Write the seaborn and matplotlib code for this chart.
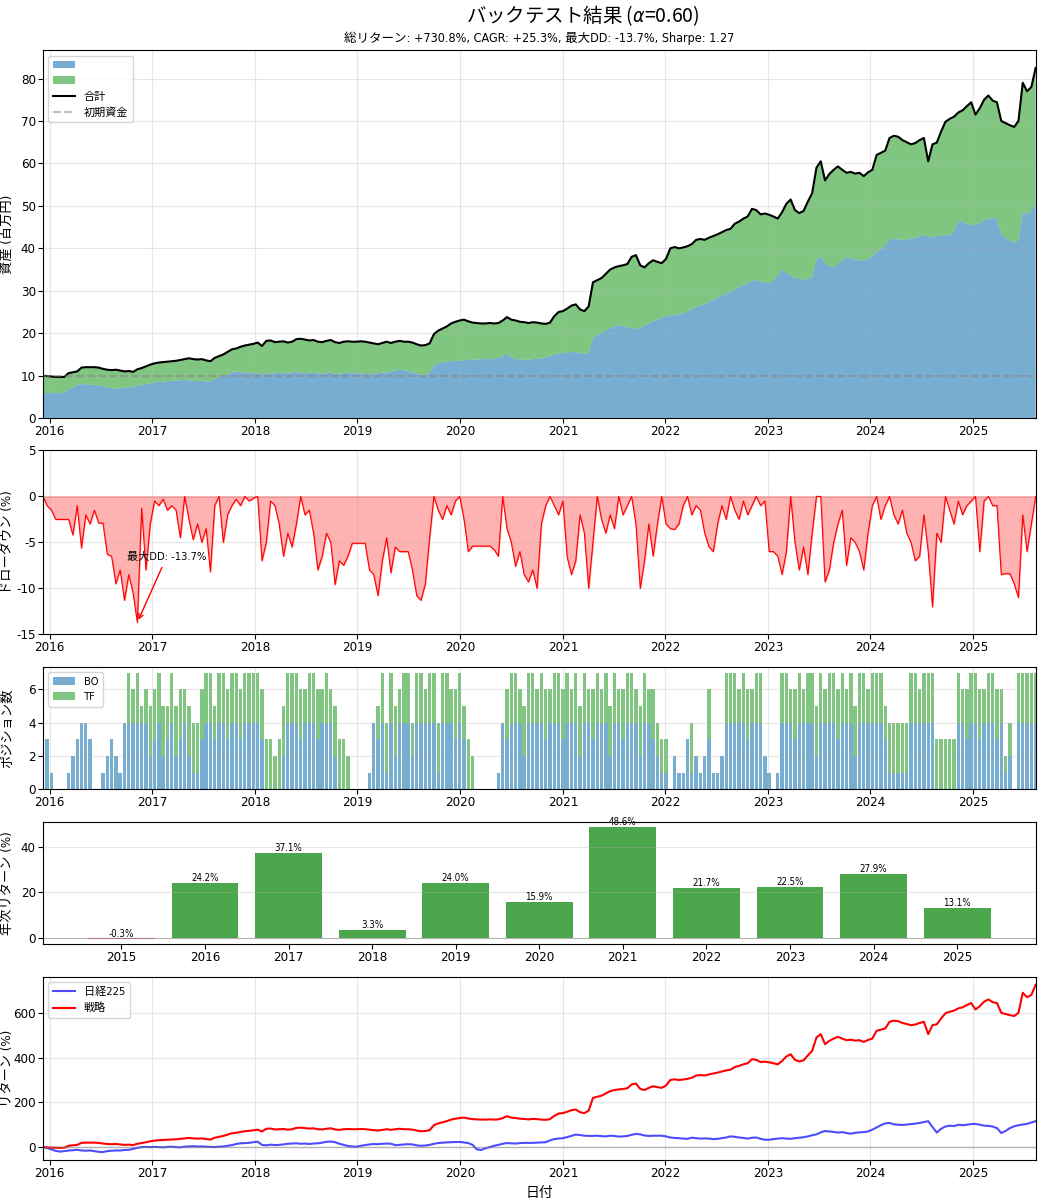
"""バックテスト結果のダッシュボード（資産推移・DD・ポジション・年次・対日経）を描く。"""

import matplotlib

matplotlib.use("Agg")

import matplotlib.dates as mdates
import matplotlib.pyplot as plt
from matplotlib import font_manager
from matplotlib.lines import Line2D
from matplotlib.patches import Patch
import numpy as np
import pandas as pd
import seaborn as sns

# 半月ごとの観測点（2015-12 〜 2025-08）
START_DATE = "2015-12-08"
END_DATE = "2025-08-11"
INITIAL_CAPITAL = 10.0  # 百万円

# 合計資産（百万円）
TOTAL_EQUITY = [
    10.0,
    9.9, 9.8, 9.7, 9.7, 9.7, 10.6, 10.8, 11.0, 11.9, 12.0, 12.0, 12.0, 11.9, 11.6, 11.4, 11.3, 11.4, 11.2, 11.0, 11.1, 10.9, 11.5, 11.8, 12.2,
    12.6, 12.9, 13.1, 13.2, 13.3, 13.4, 13.5, 13.7, 13.9, 14.1, 13.9, 13.8, 13.9, 13.6, 13.4, 14.2, 14.6, 15.0, 15.6, 16.2, 16.4, 16.8, 17.1, 17.3,
    17.5, 17.8, 17.0, 18.2, 18.3, 17.9, 18.0, 18.1, 17.8, 18.0, 18.6, 18.7, 18.5, 18.3, 18.4, 18.0, 17.9, 18.2, 18.4, 17.9, 17.7, 18.0, 18.1, 18.0,
    18.0, 18.1, 18.0, 17.8, 17.6, 17.4, 17.7, 18.0, 17.7, 18.0, 18.2, 18.0, 18.0, 17.8, 17.4, 17.1, 17.2, 17.6, 19.8, 20.6, 21.1, 21.6, 22.3, 22.7,
    23.0, 23.2, 22.8, 22.5, 22.4, 22.3, 22.3, 22.4, 22.3, 22.4, 23.0, 23.8, 23.2, 23.0, 22.7, 22.6, 22.4, 22.6, 22.5, 22.3, 22.2, 22.5, 24.0, 25.0,
    25.2, 25.8, 26.5, 26.8, 25.6, 25.2, 26.3, 32.0, 32.5, 33.0, 34.0, 35.0, 35.5, 35.8, 36.0, 36.3, 38.0, 38.4, 36.0, 35.5, 36.5, 37.2, 36.8, 36.5,
    37.5, 40.0, 40.3, 40.0, 40.2, 40.5, 41.0, 42.0, 42.2, 42.0, 42.5, 42.9, 43.3, 43.8, 44.3, 44.6, 45.8, 46.3, 47.0, 47.5, 49.3, 49.0, 48.0, 48.2,
    47.9, 47.5, 47.0, 48.5, 50.5, 51.5, 49.0, 48.3, 48.8, 51.0, 53.0, 59.0, 60.5, 56.0, 57.5, 58.5, 59.3, 58.5, 57.8, 58.0, 57.6, 57.8, 57.0, 57.9,
    58.5, 62.0, 62.5, 63.0, 66.0, 66.5, 66.3, 65.5, 65.0, 64.5, 64.8, 65.5, 66.0, 60.5, 64.5, 64.9, 67.5, 69.8, 70.5, 71.0, 72.0, 72.5, 73.5, 74.4,
    71.5, 73.0, 75.0, 76.0, 74.8, 74.4, 70.0, 69.5, 69.0, 68.6, 70.0, 79.0, 77.0, 78.0, 82.5,
]

# BO戦略の資産（百万円）
BO_EQUITY = [
    6.0,
    5.9, 5.9, 5.9, 5.9, 5.9, 6.8, 7.2, 7.8, 8.0, 8.0, 7.9, 7.8, 7.7, 7.5, 7.3, 7.1, 6.9, 7.0, 7.2, 7.3, 7.4, 7.6, 7.8, 8.0,
    8.2, 8.4, 8.5, 8.6, 8.7, 8.8, 8.8, 8.9, 9.0, 8.9, 8.8, 8.7, 8.8, 8.6, 8.7, 9.2, 9.6, 9.9, 10.3, 10.7, 11.0, 10.8, 10.7, 10.6,
    10.6, 10.5, 10.3, 10.6, 10.5, 10.6, 10.6, 10.7, 10.5, 10.8, 10.9, 10.7, 10.6, 10.6, 10.8, 10.5, 10.4, 10.6, 10.7, 10.5, 10.4, 10.6, 10.7, 10.6,
    10.6, 10.5, 10.4, 10.3, 10.4, 10.6, 10.7, 10.8, 10.9, 11.2, 11.4, 11.3, 11.1, 10.8, 10.5, 10.2, 10.3, 10.6, 12.5, 12.9, 13.1, 13.3, 13.4, 13.5,
    13.5, 13.6, 13.7, 13.8, 13.8, 13.9, 13.9, 13.9, 14.0, 14.2, 14.6, 15.1, 14.3, 14.0, 13.8, 13.7, 13.8, 13.9, 14.0, 14.1, 14.3, 14.6, 15.0, 15.2,
    15.3, 15.5, 15.6, 15.5, 15.3, 15.2, 15.3, 18.9, 19.5, 20.1, 20.6, 21.2, 21.6, 21.8, 21.7, 21.4, 21.2, 21.0, 21.3, 21.8, 22.3, 22.8, 23.3, 23.7,
    23.9, 24.1, 24.3, 24.5, 24.7, 25.2, 25.7, 26.2, 26.6, 26.8, 27.3, 27.9, 28.4, 29.0, 29.2, 29.8, 30.4, 30.9, 31.3, 31.8, 32.3, 32.6, 32.2, 31.9,
    31.7, 32.5, 33.5, 35.0, 34.2, 33.6, 33.0, 32.8, 32.6, 32.9, 33.2, 37.5, 37.9, 36.5, 35.8, 35.5, 36.3, 37.3, 37.9, 37.7, 37.4, 37.2, 37.1, 37.4,
    38.2, 39.2, 39.8, 40.6, 42.1, 42.3, 42.1, 42.0, 42.1, 42.3, 42.4, 42.8, 43.3, 42.5, 42.7, 42.9, 42.9, 43.2, 43.0, 44.0, 46.6, 46.2, 45.8, 45.5,
    45.4, 46.0, 46.6, 47.0, 47.1, 47.0, 43.3, 42.5, 41.8, 41.3, 42.0, 48.5, 48.0, 49.0, 50.5,
]

# ドローダウン（%）
DRAWDOWN = [
    0.0,
    -1.0, -1.5, -2.5, -2.5, -2.5, -2.5, -4.2, -1.0, -5.6, -2.0, -3.0, -1.5, -2.9, -2.9, -6.3, -6.5, -9.5, -8.0, -11.3, -8.5, -10.5, -13.7, -1.3, -8.0,
    -3.0, -0.5, -1.0, -0.3, -1.5, -1.0, -1.5, -4.5, 0.0, -2.5, -4.7, -3.0, -5.0, -3.5, -8.2, -1.0, 0.0, -5.0, -2.0, -1.0, -0.3, -1.0, 0.0, -0.5,
    -0.2, 0.0, -7.0, -5.0, -0.5, -1.0, -3.0, -6.5, -4.0, -5.5, -3.0, 0.0, -2.0, -1.5, -4.0, -8.0, -6.5, -4.0, -5.0, -9.6, -7.0, -7.5, -6.5, -5.1,
    -5.1, -5.1, -5.1, -8.0, -8.5, -10.8, -7.0, -4.5, -8.3, -5.5, -6.0, -6.0, -6.0, -8.0, -10.8, -11.3, -9.5, -4.5, 0.0, -1.5, -2.5, -1.0, -2.0, -0.5,
    0.0, -2.5, -6.0, -5.4, -5.4, -5.4, -5.4, -5.4, -5.8, -6.5, 0.0, -3.5, -5.0, -7.6, -6.0, -8.5, -9.3, -8.0, -10.0, -3.0, -1.0, 0.0, -1.0, -2.0,
    -0.5, -6.6, -8.5, -7.0, -2.0, -4.0, -10.0, -5.0, 0.0, -2.5, -4.0, -2.0, -3.5, 0.0, -2.0, -1.0, 0.0, -3.0, -10.0, -7.0, -3.0, -6.5, -3.0, 0.0,
    -3.0, -3.5, -3.6, -3.0, -1.0, 0.0, -2.0, -1.0, -1.5, -4.0, -5.5, -6.0, -3.0, -1.0, -2.5, 0.0, -1.5, -2.5, -0.5, -2.0, -1.0, 0.0, -1.0, -0.5,
    -6.0, -6.0, -6.5, -8.5, -6.0, 0.0, -5.0, -8.0, -5.5, -8.5, -4.0, 0.0, 0.0, -9.3, -8.0, -5.0, -3.0, -1.5, -7.5, -4.5, -5.0, -6.0, -8.0, -4.0,
    -1.0, 0.0, -2.5, -1.0, 0.0, -2.0, -3.0, -1.5, -4.0, -5.0, -7.0, -6.5, -2.0, -6.0, -12.0, -4.0, -5.0, 0.0, -1.5, -3.0, -0.5, -2.0, -1.0, -0.5,
    0.0, -6.0, -0.5, 0.0, -1.0, -1.0, -8.5, -8.4, -8.4, -9.5, -11.0, -2.0, -6.0, -3.0, 0.0,
]

# 保有ポジション数
BO_POSITIONS = [
    1,
    3, 1, 0, 0, 0, 1, 2, 3, 4, 4, 3, 0, 0, 1, 2, 3, 2, 1, 4, 4, 4, 4, 4, 4,
    2, 3, 4, 2, 3, 4, 2, 3, 4, 2, 1, 1, 3, 4, 4, 3, 4, 4, 3, 4, 4, 3, 4, 4,
    4, 4, 3, 0, 0, 0, 0, 2, 4, 4, 4, 3, 4, 4, 4, 3, 4, 4, 4, 2, 0, 0, 0, 0,
    0, 0, 0, 1, 4, 3, 4, 1, 4, 2, 4, 4, 4, 2, 4, 4, 4, 4, 4, 1, 4, 4, 4, 3,
    4, 3, 0, 0, 0, 0, 0, 0, 0, 1, 4, 3, 4, 4, 4, 2, 4, 4, 4, 4, 3, 4, 4, 4,
    3, 4, 4, 4, 2, 4, 4, 3, 4, 4, 4, 2, 4, 4, 3, 4, 4, 4, 2, 4, 4, 3, 2, 1,
    1, 0, 2, 1, 1, 3, 1, 2, 1, 2, 3, 1, 1, 2, 4, 4, 4, 4, 4, 3, 4, 4, 4, 2,
    1, 0, 1, 4, 4, 4, 3, 4, 4, 4, 4, 2, 4, 4, 4, 4, 3, 4, 4, 4, 2, 4, 4, 4,
    4, 4, 4, 3, 1, 1, 1, 1, 1, 4, 4, 4, 4, 4, 4, 0, 0, 0, 0, 0, 4, 4, 3, 4,
    4, 3, 4, 4, 4, 3, 4, 1, 2, 0, 4, 4, 4, 4, 4,
]
TF_POSITIONS = [
    0,
    0, 0, 0, 0, 0, 0, 0, 0, 0, 0, 0, 0, 0, 0, 0, 0, 0, 0, 0, 3, 2, 3, 1, 2,
    3, 3, 3, 3, 2, 3, 3, 3, 2, 3, 3, 3, 3, 3, 3, 2, 3, 3, 3, 3, 3, 3, 3, 3,
    3, 3, 3, 3, 3, 2, 3, 3, 3, 3, 3, 3, 2, 3, 3, 3, 2, 3, 2, 3, 3, 3, 2, 0,
    0, 0, 0, 0, 0, 2, 3, 3, 3, 3, 2, 3, 3, 2, 3, 3, 2, 3, 3, 3, 3, 3, 2, 3,
    3, 2, 3, 2, 0, 0, 0, 0, 0, 0, 0, 3, 3, 3, 2, 3, 3, 3, 2, 3, 3, 2, 3, 3,
    3, 3, 2, 3, 3, 3, 2, 3, 3, 2, 3, 3, 3, 2, 3, 3, 3, 2, 3, 3, 2, 3, 2, 2,
    2, 0, 0, 0, 0, 0, 3, 0, 0, 0, 3, 0, 0, 0, 3, 3, 3, 2, 3, 3, 2, 3, 3, 0,
    0, 0, 0, 3, 3, 2, 3, 3, 2, 3, 3, 3, 3, 2, 3, 3, 3, 3, 2, 3, 3, 3, 3, 2,
    3, 3, 3, 2, 3, 3, 3, 3, 3, 3, 3, 2, 3, 3, 3, 3, 3, 3, 3, 3, 3, 2, 3, 3,
    3, 3, 2, 3, 3, 3, 2, 1, 2, 0, 3, 3, 3, 3, 3,
]

# 日経225 累積リターン（%）
NIKKEI_RETURN = [
    0,
    -4, -10, -17, -20, -18, -15, -14, -12, -15, -16, -15, -18, -21, -22, -18, -16, -15, -15, -13, -12, -8, -3, 0, 1,
    0, 1, 0, -1, 1, 2, 0, -1, 2, 3, 4, 3, 3, 2, 1, 0, 2, 3, 6, 9, 14, 17, 18, 19,
    22, 24, 10, 8, 11, 9, 10, 12, 15, 16, 17, 15, 16, 14, 16, 17, 20, 24, 25, 22, 15, 10, 5, 3,
    2, 6, 9, 12, 14, 13, 15, 16, 15, 9, 10, 12, 13, 12, 8, 6, 7, 10, 15, 18, 20, 21, 22, 23,
    23, 21, 18, 10, -10, -13, -5, 0, 6, 10, 15, 18, 17, 16, 18, 19, 19, 19, 20, 21, 22, 30, 36, 38,
    40, 45, 50, 56, 54, 51, 50, 50, 51, 49, 48, 51, 50, 47, 48, 50, 55, 59, 57, 52, 50, 51, 51, 51,
    48, 43, 41, 40, 38, 37, 42, 40, 38, 39, 38, 36, 37, 40, 43, 48, 46, 43, 41, 38, 42, 43, 37, 33,
    33, 36, 38, 40, 38, 37, 40, 42, 44, 48, 53, 57, 66, 72, 70, 68, 65, 67, 63, 60, 64, 66, 67, 70,
    78, 88, 98, 106, 108, 102, 100, 99, 101, 103, 105, 108, 112, 116, 90, 65, 82, 92, 96, 94, 100, 98, 100, 103,
    104, 100, 96, 95, 92, 85, 63, 72, 85, 93, 98, 101, 104, 110, 116,
]

# 年次リターン
YEARS = ["2015", "2016", "2017", "2018", "2019", "2020", "2021", "2022", "2023", "2024", "2025"]
ANNUAL_RETURNS = [-0.3, 24.2, 37.1, 3.3, 24.0, 15.9, 48.6, 21.7, 22.5, 27.9, 13.1]

SUBTITLE = "総リターン: +730.8%, CAGR: +25.3%, 最大DD: -13.7%, Sharpe: 1.27"
CJK_FAMILY = ["Noto Sans CJK JP", "DejaVu Sans"]


def configure_font():
    """半角は細めの書体（あれば）、和文は Noto Sans CJK JP で描く。"""
    condensed = any(
        font.name == "DejaVu Sans" and str(font.stretch) in ("condensed", "semi-condensed", "500", "400")
        for font in font_manager.fontManager.ttflist
    )
    if condensed:
        plt.rcParams["font.family"] = ["DejaVu Sans", "Noto Sans CJK JP"]
        plt.rcParams["font.stretch"] = "condensed"
    else:
        plt.rcParams["font.family"] = CJK_FAMILY
    plt.rcParams["axes.unicode_minus"] = False


def format_date_axis(axis, dates, xlabel=""):
    axis.set_xlim(dates[0], dates[-1])
    axis.xaxis.set_major_locator(mdates.YearLocator())
    axis.xaxis.set_major_formatter(mdates.DateFormatter("%Y"))
    axis.set_xlabel(xlabel)
    axis.grid(True, alpha=0.3)


def style_axis(axis, ylabel):
    axis.set_ylabel(ylabel, fontsize=9.5)
    axis.yaxis.set_label_coords(-0.029, 0.5)
    axis.tick_params(labelsize=9.5, pad=1.5)


def main():
    configure_font()

    dates = pd.date_range(START_DATE, END_DATE, periods=len(TOTAL_EQUITY))
    total = np.array(TOTAL_EQUITY)
    bo = np.array(BO_EQUITY)
    tf = total - bo
    drawdown = np.array(DRAWDOWN)
    strategy_return = (total / INITIAL_CAPITAL - 1) * 100

    figure = plt.figure(figsize=(10.44, 12), dpi=100)
    grid = figure.add_gridspec(
        5, 1, height_ratios=[3, 1.5, 1, 1, 1.5],
        left=0.041, right=0.992, top=0.958, bottom=0.033, hspace=0.165,
    )
    ax_equity, ax_dd, ax_pos, ax_year, ax_bench = [figure.add_subplot(grid[i]) for i in range(5)]

    figure.suptitle("バックテスト結果 ($\\alpha$=0.60)", fontsize=14, x=0.558, y=0.997, family=CJK_FAMILY)

    # 資産推移
    ax_equity.stackplot(dates, bo, tf, colors=["tab:blue", "tab:green"], alpha=0.6)
    sns.lineplot(x=dates, y=total, color="black", linewidth=1.5, ax=ax_equity)
    ax_equity.axhline(INITIAL_CAPITAL, color="gray", linestyle="--", alpha=0.5)
    handles = [
        Patch(facecolor="tab:blue", alpha=0.6),
        Patch(facecolor="tab:green", alpha=0.6),
        Line2D([], [], color="black", linewidth=1.5),
        Line2D([], [], color="gray", linestyle="--", alpha=0.5),
    ]
    ax_equity.legend(handles, ["", "", "合計", "初期資金"], loc="upper left", fontsize=8)
    ax_equity.set_title(SUBTITLE, fontsize=9)
    style_axis(ax_equity, "資産 (百万円)")
    format_date_axis(ax_equity, dates)

    # ドローダウン
    ax_dd.fill_between(dates, drawdown, 0, color="red", alpha=0.3)
    sns.lineplot(x=dates, y=drawdown, color="red", linewidth=0.8, ax=ax_dd)
    worst = int(np.argmin(drawdown))
    ax_dd.annotate(
        f"最大DD: {drawdown[worst]:.1f}%",
        xy=(dates[worst], drawdown[worst]),
        xytext=(21, 47), textcoords="offset points",
        ha="center", va="center", fontsize=8,
        arrowprops=dict(arrowstyle="->", color="red", lw=1),
    )
    ax_dd.set_ylim(-15, 5)
    style_axis(ax_dd, "ドローダウン (%)")
    format_date_axis(ax_dd, dates)

    # ポジション数
    bo_pos = np.array(BO_POSITIONS)
    tf_pos = np.array(TF_POSITIONS)
    ax_pos.bar(dates, bo_pos, width=12, color="tab:blue", alpha=0.6, label="BO")
    ax_pos.bar(dates, tf_pos, bottom=bo_pos, width=12, color="tab:green", alpha=0.6, label="TF")
    ax_pos.set_ylim(0, 7.35)
    ax_pos.legend(loc="upper left", fontsize=8)
    style_axis(ax_pos, "ポジション数")
    format_date_axis(ax_pos, dates)

    # 年次リターン
    colors = ["red" if value < 0 else "green" for value in ANNUAL_RETURNS]
    sns.barplot(
        x=YEARS, y=ANNUAL_RETURNS, hue=YEARS, palette=colors, legend=False,
        saturation=1, alpha=0.7, errorbar=None, width=0.8, ax=ax_year,
    )
    for index, value in enumerate(ANNUAL_RETURNS):
        ax_year.text(index, value, f"{value:.1f}%", ha="center", va="bottom", fontsize=7)
    ax_year.axhline(0, color="gray", linewidth=0.8, alpha=0.5)
    ax_year.set_xlim(-0.94, len(YEARS) - 0.06)
    ax_year.set_xlabel("")
    style_axis(ax_year, "年次リターン (%)")
    ax_year.grid(True, axis="y", alpha=0.3)

    # 日経225との比較
    sns.lineplot(x=dates, y=NIKKEI_RETURN, color="blue", alpha=0.7, linewidth=1.5, label="日経225", ax=ax_bench)
    sns.lineplot(x=dates, y=strategy_return, color="red", linewidth=1.5, label="戦略", ax=ax_bench)
    ax_bench.axhline(0, color="gray", linewidth=1, alpha=0.5)
    ax_bench.legend(loc="upper left", fontsize=8)
    style_axis(ax_bench, "リターン (%)")
    format_date_axis(ax_bench, dates, xlabel="日付")

    figure.savefig("out.png", dpi=100)
    plt.close(figure)


if __name__ == "__main__":
    main()
